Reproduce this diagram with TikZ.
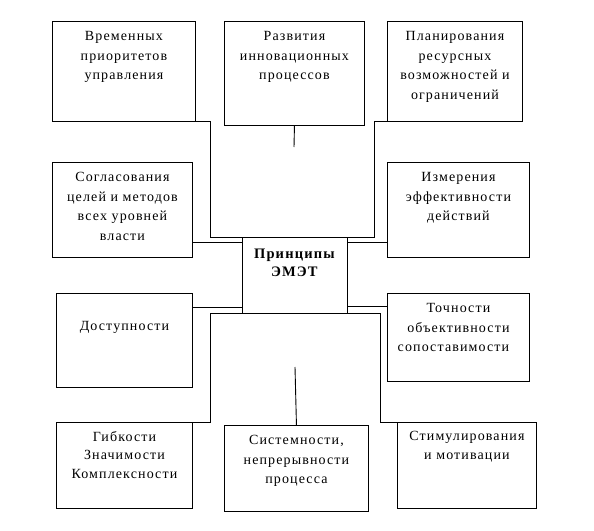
\documentclass[tikz,border=0pt]{standalone}
\usepackage{fontspec}
\setmainfont{Liberation Serif}[LetterSpace=8]
\usetikzlibrary{positioning, calc}
\tikzset{
	princbox/.style={
			rectangle,
			draw=black,
			line width=0.9pt,
			anchor=north west,
			inner sep=0pt
		},
	princtext/.style={
			anchor=north,
			align=center,
			inner sep=0pt,
			font=\fontsize{14}{19.5}\selectfont,
			yshift=-10.5pt
		},
	princline/.style={
			line width=0.9pt
		}
}

\begin{document}
\begin{tikzpicture}[x=1pt, y=-1pt]
\useasboundingbox (0,0) rectangle (594,530);
\node[princbox, minimum width=143pt, minimum height=100pt] (vrem) at (52,21) {};
\node[princbox, minimum width=140pt, minimum height=104pt] (razv) at (224,21) {};
\node[princbox, minimum width=135pt, minimum height=100pt] (plan) at (387,21) {};
\node[princbox, minimum width=140pt, minimum height=95pt] (sogl) at (52,162) {};
\node[princbox, minimum width=142pt, minimum height=95pt] (izm) at (387,162) {};
\node[princbox, minimum width=105pt, minimum height=76pt] (center) at (242,237) {};
\node[princbox, minimum width=136pt, minimum height=94pt] (dost) at (56,293) {};
\node[princbox, minimum width=142pt, minimum height=88pt] (toch) at (387,293) {};
\node[princbox, minimum width=136pt, minimum height=86pt] (gibk) at (56,422) {};
\node[princbox, minimum width=144pt, minimum height=86pt] (sist) at (224,425) {};
\node[princbox, minimum width=139pt, minimum height=86pt] (stim) at (397,422) {};

\node[princtext] (vremtext) at (vrem.north) {Временных\\приоритетов\\управления};
\node[princtext] (razvtext) at (razv.north) {Развития\\инновационных\\процессов};
\node[princtext] (plantext) at (plan.north) {Планирования\\ресурсных\\возможностей и\\ограничений};
\node[princtext] (sogltext) at (sogl.north) {Согласования\\целей и методов\\всех уровней\\власти};
\node[princtext] (izmtext) at (izm.north) {Измерения\\эффективности\\действий};
\node[princtext, yshift=-1pt, font=\fontsize{14.5}{18}\selectfont] (centertext) at (center.north) {\textbf{Принципы}\\\textbf{ЭМЭТ}};
\node[princtext, yshift=-18pt] (dosttext) at (dost.north) {Доступности};
\node[princtext] (tochtext) at (toch.north) {Точности\\объективности\\сопоставимости\hspace*{10pt}};
\node[princtext, yshift=1.5pt, font=\fontsize{14}{18.5}\selectfont] (gibktext) at (gibk.north) {Гибкости\\Значимости\\Комплексности};
\node[princtext] (sisttext) at (sist.north) {Системности,\\непрерывности\\процесса};
\node[princtext, yshift=1.5pt] (stimtext) at (stim.north) {Стимулирования\\и мотивации};

\coordinate (tl) at (210,237);
\coordinate (tr) at (374,237);
\coordinate (bl) at (210,313);
\coordinate (br) at (380,313);
\coordinate (cl1) at (242,242);
\coordinate (cr1) at (347,242);
\coordinate (cl2) at (242,307);
\coordinate (cr2) at (347,306);
\coordinate (razvend) at (294,147);
\coordinate (sistend) at (295,367);

\draw[princline] (vrem.south east) -| (tl) -- (tr) |- (plan.south west);
\draw[princline] (gibk.north east) -| (bl) -- (br) |- (stim.north west);
\draw[princline] (cl1) -- (cl1 -| sogl.east);
\draw[princline] (cr1) -- (cr1 -| izm.west);
\draw[princline] (cl2) -- (cl2 -| dost.east);
\draw[princline] (cr2) -- (cr2 -| toch.west);
\draw[princline] (razv.south) -- (razvend);
\draw[princline] (sist.north) -- (sistend);
\end{tikzpicture}
\end{document}
